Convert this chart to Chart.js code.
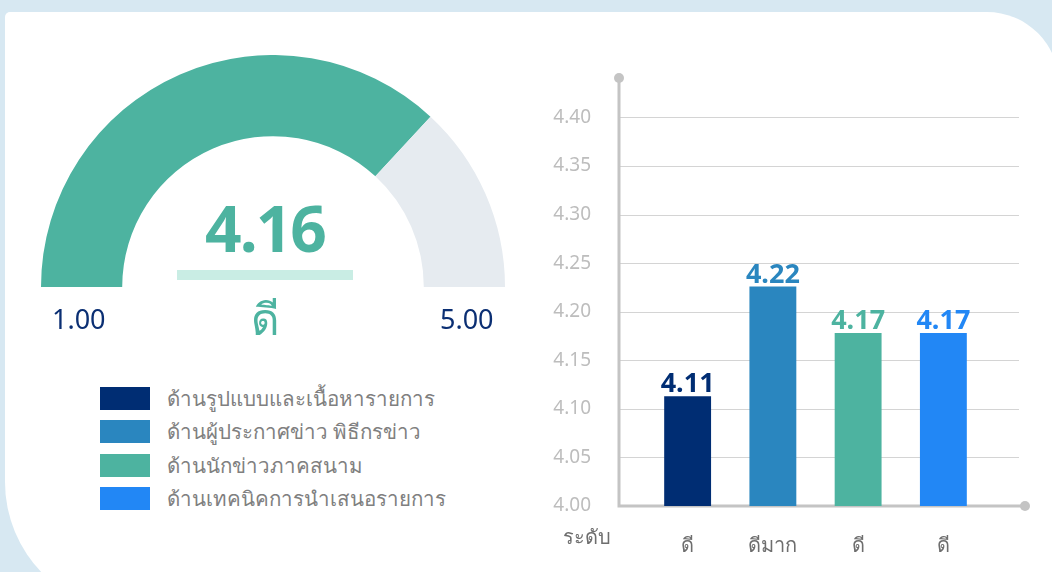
<!DOCTYPE html>
<html>
<head>
<meta charset="utf-8">
<script src="https://cdn.jsdelivr.net/npm/chart.js@4/dist/chart.umd.min.js"></script>
<style>
  body { margin: 0; width: 1052px; height: 572px; overflow: hidden; background: #d7e8f2; font-family: 'Noto Sans', sans-serif; position: relative; }
  #card { position: absolute; left: 5px; top: 12px; width: 1054px; height: 600px; background: #fff; border-radius: 5px 72px 0 130px; }
  .abs { position: absolute; }
  #gaugeWrap { left: 41px; top: 55px; width: 464px; height: 232px; }
  #barWrap { left: 530px; top: 60px; width: 522px; height: 512px; }
  #score { left: 165px; top: 184px; width: 200px; text-align: center; font-size: 64px; font-weight: 700; color: #4db3a0; letter-spacing: -2px; }
  #scoreBar { left: 177px; top: 270px; width: 176px; height: 10px; background: #c9ede4; }
  #grade { left: 215px; top: 284px; width: 100px; text-align: center; font-size: 44px; color: #4db3a0; }
  .rangeLbl { top: 300px; font-size: 27px; color: #0b2f73; }
  #legend { left: 100px; top: 382px; }
  .item { display: flex; align-items: center; height: 33.3px; }
  .box { width: 50px; height: 23px; margin-right: 17px; }
  .txt { font-size: 20.5px; color: #808080; }
</style>
</head>
<body>
<div id="card"></div>
<div class="abs" id="gaugeWrap"><canvas id="gauge"></canvas></div>
<div class="abs" id="score"></div>
<div class="abs" id="scoreBar"></div>
<div class="abs" id="grade"></div>
<div class="abs rangeLbl" id="minLbl" style="left:52px"></div>
<div class="abs rangeLbl" id="maxLbl" style="left:440px"></div>
<div class="abs" id="legend"></div>
<div class="abs" id="barWrap"><canvas id="bars"></canvas></div>
<script>
// overall score
const overallScore = '4.16';
const overallGrade = 'ดี';
const gaugeMin = 1.00;
const gaugeMax = 5.00;
const gaugeArc = [2.95, 1.05]; // filled part, rest (as drawn)
const gaugeColors = ['#4db3a0', '#e6ebf0'];

// bars
const categories = ['ด้านรูปแบบและเนื้อหารายการ', 'ด้านผู้ประกาศข่าว พิธีกรข่าว', 'ด้านนักข่าวภาคสนาม', 'ด้านเทคนิคการนำเสนอรายการ'];
const levels = ['ดี', 'ดีมาก', 'ดี', 'ดี'];
const scores = [4.113, 4.226, 4.178, 4.178];
const barColors = ['#002d73', '#2a86bf', '#4db3a0', '#2287f5'];
const yTicks = [4.00, 4.05, 4.10, 4.15, 4.20, 4.25, 4.30, 4.35, 4.40];
const levelTitle = 'ระดับ';

document.getElementById('score').textContent = overallScore;
document.getElementById('grade').textContent = overallGrade;
document.getElementById('minLbl').textContent = gaugeMin.toFixed(2);
document.getElementById('maxLbl').textContent = gaugeMax.toFixed(2);

const legend = document.getElementById('legend');
categories.forEach(function (c, i) {
    const row = document.createElement('div');
    row.className = 'item';
    row.innerHTML = '<div class="box" style="background:' + barColors[i] + '"></div><div class="txt">' + c + '</div>';
    legend.appendChild(row);
});

new Chart(document.getElementById('gauge').getContext('2d'), {
    type: 'doughnut',
    data: {
        labels: ['score', 'rest'],
        datasets: [{
            data: gaugeArc,
            backgroundColor: gaugeColors,
            borderWidth: 0
        }]
    },
    options: {
        responsive: true,
        maintainAspectRatio: false,
        animation: false,
        rotation: -90,
        circumference: 180,
        cutout: '65%',
        plugins: { legend: { display: false }, tooltip: { enabled: false } }
    }
});

const axisColor = '#c4c4c4';

const barDecor = {
    id: 'barDecor',
    beforeDatasetsDraw(chart) {
        const ctx = chart.ctx;
        const y = chart.scales.y;
        const axX = 89, gridEnd = 489, axEndX = 495, axTop = 18;
        ctx.save();
        ctx.strokeStyle = '#d4d4d4';
        ctx.lineWidth = 1;
        yTicks.forEach(function (t) {
            if (t === yTicks[0]) return;
            const py = Math.round(y.getPixelForValue(t)) + 0.5;
            ctx.beginPath();
            ctx.moveTo(axX, py);
            ctx.lineTo(gridEnd, py);
            ctx.stroke();
        });
        const base = y.getPixelForValue(yTicks[0]);
        ctx.strokeStyle = axisColor;
        ctx.lineWidth = 3;
        ctx.beginPath();
        ctx.moveTo(axX, axTop);
        ctx.lineTo(axX, base);
        ctx.lineTo(axEndX, base);
        ctx.stroke();
        ctx.fillStyle = axisColor;
        ctx.beginPath();
        ctx.arc(axX, axTop, 5, 0, Math.PI * 2);
        ctx.fill();
        ctx.beginPath();
        ctx.arc(axEndX, base, 5, 0, Math.PI * 2);
        ctx.fill();
        ctx.restore();
    },
    afterDatasetsDraw(chart) {
        const ctx = chart.ctx;
        const meta = chart.getDatasetMeta(0);
        ctx.save();
        ctx.font = 'bold 27px "Noto Sans", sans-serif';
        ctx.textAlign = 'center';
        ctx.textBaseline = 'bottom';
        meta.data.forEach(function (bar, i) {
            ctx.fillStyle = barColors[i];
            ctx.fillText((Math.floor(scores[i] * 100) / 100).toFixed(2), bar.x, bar.y + 2);
        });
        ctx.font = '20px "Noto Sans", sans-serif';
        ctx.fillStyle = '#6e6e6e';
        ctx.textAlign = 'left';
        ctx.textBaseline = 'top';
        ctx.fillText(levelTitle, 33, 468);
        ctx.restore();
    }
};

new Chart(document.getElementById('bars').getContext('2d'), {
    type: 'bar',
    data: {
        labels: levels,
        datasets: [{
            data: scores,
            backgroundColor: barColors,
            borderWidth: 0,
            categoryPercentage: 1,
            barPercentage: 0.55
        }]
    },
    options: {
        responsive: true,
        maintainAspectRatio: false,
        animation: false,
        layout: { padding: { top: 51, right: 66, left: 0, bottom: 0 } },
        plugins: { legend: { display: false }, tooltip: { enabled: false } },
        scales: {
            x: {
                grid: { display: false },
                border: { display: false },
                afterFit(s) { s.height = 66; },
                ticks: { color: '#6e6e6e', font: { size: 20, family: '"Noto Sans", sans-serif' }, padding: 20 }
            },
            y: {
                min: yTicks[0],
                max: yTicks[yTicks.length - 1],
                grid: { display: false },
                border: { display: false },
                afterFit(s) { s.width = 115; },
                afterBuildTicks(s) { s.ticks = yTicks.map(function (v) { return { value: v }; }); },
                ticks: {
                    color: '#bdbdbd',
                    padding: 46,
                    font: { size: 19, family: '"Noto Sans", sans-serif' },
                    callback: function (v) { return Number(v).toFixed(2); }
                }
            }
        }
    },
    plugins: [barDecor]
});
</script>
</body>
</html>
